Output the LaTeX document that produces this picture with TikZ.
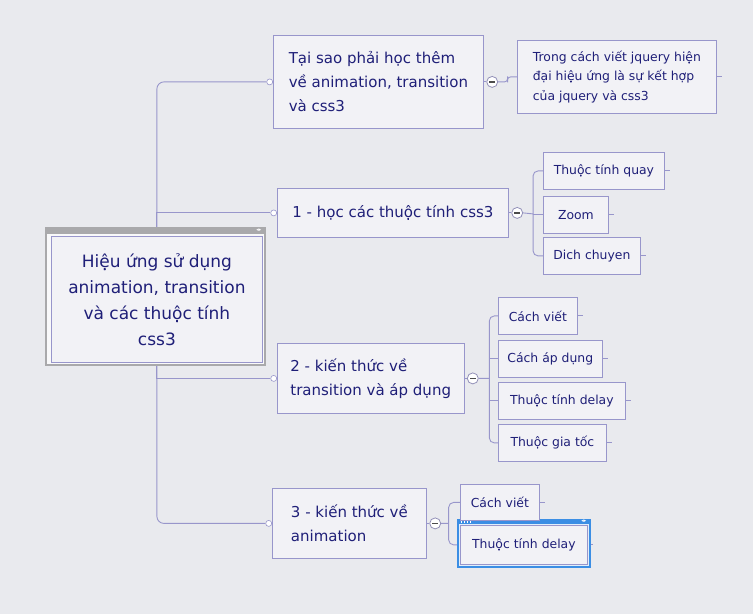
\documentclass[tikz,border=0pt]{standalone}
\usepackage{fontspec}
\setmainfont{DejaVu Sans}
\usetikzlibrary{positioning,calc,backgrounds}
\definecolor{paper}{HTML}{E9EAEE}
\definecolor{boxfill}{HTML}{F2F2F6}
\definecolor{lav}{HTML}{9896CB}
\definecolor{ink}{HTML}{1F1F78}
\definecolor{framegray}{HTML}{A9A9AB}
\definecolor{selblue}{HTML}{3B8EE4}

\begin{document}
\begin{tikzpicture}[x=1pt, y=-1pt,
  core/.style={draw=lav, fill=boxfill, line width=0.8pt, text=ink, align=center, anchor=north west,
      minimum width=211pt, minimum height=126pt, font=\fontsize{17}{26}\selectfont},
  topic/.style={draw=lav, fill=boxfill, line width=0.8pt, text=ink, align=left, anchor=north west,
      inner xsep=13pt, font=\fontsize{15}{24}\selectfont},
  leaf/.style={draw=lav, fill=boxfill, line width=0.8pt, text=ink, align=left, anchor=north west,
      inner xsep=9pt, minimum height=37pt, font=\fontsize{12.4}{19.5}\selectfont},
  link/.style={draw=lav, line width=0.9pt},
  pin/.style={circle, draw=lav, fill=white, line width=0.6pt, inner sep=0pt, minimum size=6pt},
  knob/.style={circle, draw=lav!75!gray, fill=white, line width=0.8pt, inner sep=0pt, minimum size=11pt, text=gray!60!black},
  grip/.style={inner sep=0pt, text=white, font=\fontsize{5}{5}\selectfont},
]
\useasboundingbox (0,0) rectangle (753,614);

% central topic
\node[core] (root) at (51,236) {Hiệu ứng sử dụng\\animation, transition\\và các thuộc tính\\css3};

% main topics
\node[topic, minimum width=210pt, minimum height=93pt] (why) at (273,35)
   {Tại sao phải học thêm\\về animation, transition\\và css3};
\node[topic, minimum width=231pt, minimum height=49pt] (props) at (277,188)
   {1 - học các thuộc tính css3};
\node[topic, minimum width=186pt, minimum height=70pt] (trans) at (277,343)
   {2 - kiến thức về\\transition và áp dụng};
\node[topic, minimum width=154pt, minimum height=70pt] (anim) at (272,488)
   {3 - kiến thức về\\animation};

% sub topics
\node[leaf, minimum width=199pt, minimum height=73pt] (whyA) at (517,40)
   {Trong cách viết jquery hiện\\đại hiệu ứng là sự kết hợp\\của jquery và css3};
\node[leaf, minimum width=121pt] (propsA) at (543,152) {Thuộc tính quay};
\node[leaf, minimum width=65pt] (propsB) at (543,196) {Zoom};
\node[leaf, minimum width=97pt] (propsC) at (543,237) {Dich chuyen};
\node[leaf, minimum width=79pt] (transA) at (498,297) {Cách viết};
\node[leaf, minimum width=103pt] (transB) at (498,340) {Cách áp dụng};
\node[leaf, minimum width=127pt] (transC) at (498,382) {Thuộc tính delay};
\node[leaf, minimum width=108pt] (transD) at (498,424) {Thuộc gia tốc};
\node[leaf, minimum width=79pt, minimum height=36pt] (animA) at (460,484) {Cách viết};
\node[leaf, minimum width=127pt, minimum height=39pt] (animB) at (460,525) {Thuộc tính delay};

% pins and collapse knobs
\foreach \t in {why,props,trans,anim}{
  \node[pin, anchor=east] (pin-\t) at (\t.west) {};
  \node[knob, anchor=west, xshift=2.5pt] (knob-\t) at (\t.east) {\rule{5.5pt}{1.6pt}};
}
\node[grip] (rootgrip) at ($(root.north east)+(-4,-6)$) {◂▸};
\node[grip] (selgrip) at ($(animB.north east)+(-4,-3.5)$) {◂▸};

\coordinate (j-why) at ($(knob-why.east)!0.5!(whyA.west)$);
\coordinate (j-props) at ($(knob-props.east)!0.5!(propsB.west)$);
\coordinate (j-trans) at ($(knob-trans.east)!0.55!(transA.west|-knob-trans.east)$);
\coordinate (j-anim) at ($(knob-anim.east)!0.4!(animA.west|-knob-anim.east)$);

\begin{scope}[on background layer]
  \fill[paper] (0,0) rectangle (753,614);
  % trunk
  \draw[link, rounded corners=7pt] (pin-why.west) -| (root.center) |- (pin-anim.west);
  \draw[link] (pin-props.west) -| (root.center);
  \draw[link] (pin-trans.west) -| (root.center);
  \foreach \t in {why,props,trans,anim}
    \draw[link] (\t.east) -- (knob-\t.west);
  % branches
  \draw[link, rounded corners=3pt] (knob-why.east) -| (j-why) |- (whyA.west);
  \draw[link] (knob-props.east) -- (j-props);
  \draw[link, rounded corners=5pt] (propsA.west) -| (j-props|-propsC.west) -- (propsC.west);
  \draw[link] (j-props|-propsB.west) -- (propsB.west);
  \draw[link] (knob-trans.east) -- (j-trans);
  \draw[link, rounded corners=5pt] (transA.west) -| (j-trans|-transD.west) -- (transD.west);
  \draw[link] (j-trans|-transB.west) -- (transB.west);
  \draw[link] (j-trans|-transC.west) -- (transC.west);
  \draw[link] (knob-anim.east) -- (j-anim);
  \draw[link, rounded corners=5pt] (animA.west) -| (j-anim|-animB.west) -- (animB.west);
  % stubs
  \foreach \n in {whyA,propsA,propsB,propsC,transA,transB,transC,transD,animA,animB}
    \draw[link] (\n.east) -- ++(5,0);
  % frame of the central topic
  \fill[framegray] ($(root.north west)+(-6,-9)$) rectangle ($(root.south east)+(3,3)$);
  \fill[boxfill!50!white] ($(root.north west)+(-4,-2)$) rectangle ($(root.south east)+(1,1)$);
  % frame of the selected topic
  \fill[selblue] ($(animB.north west)+(-3,-6)$) rectangle ($(animB.south east)+(3,3)$);
  \fill[white!85!selblue] ($(animB.north west)+(-1.5,-1)$) rectangle ($(animB.south east)+(1.5,1.5)$);
  \foreach \i in {0,...,3}
    \fill[white] ($(animB.north west)+(0.5+3*\i,-4)$) rectangle ++(1.5,1.5);
\end{scope}
\end{tikzpicture}
\end{document}
